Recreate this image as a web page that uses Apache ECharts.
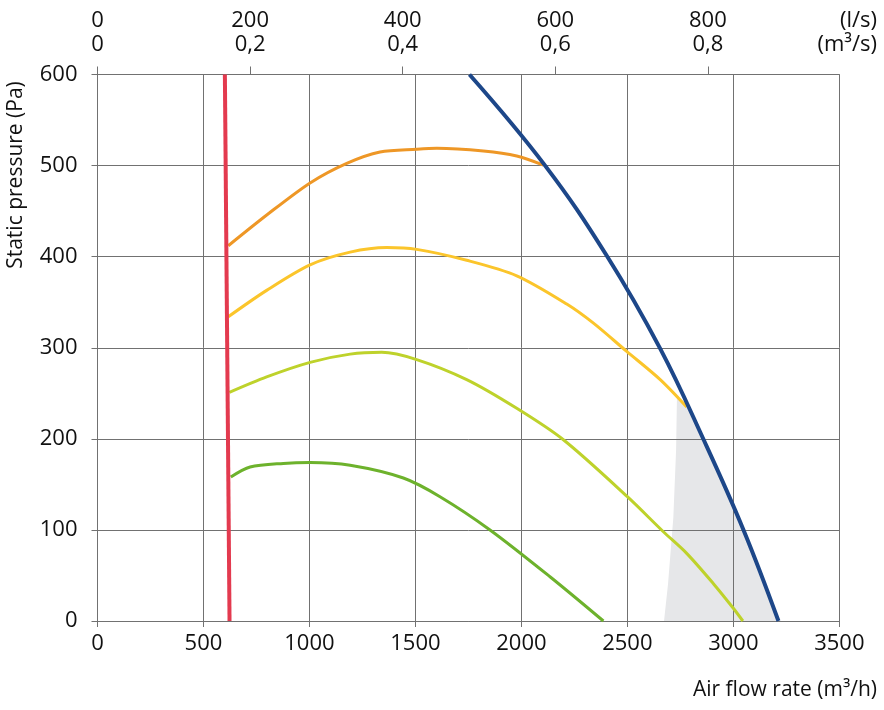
<!DOCTYPE html>
<html>
<head>
<meta charset="utf-8">
<script src="https://cdn.jsdelivr.net/npm/echarts@6/dist/echarts.min.js"></script>
<style>
  html, body { margin: 0; padding: 0; background: #fff; }
  #chart { width: 884px; height: 710px; }
</style>
</head>
<body>
<div id="chart"></div>
<script>
// air flow in m3/h, static pressure in Pa
const xTicks = [0, 500, 1000, 1500, 2000, 2500, 3000, 3500];
const topTicks = [0, 200, 400, 600, 800]; // l/s
const minLine = [[601, 600], [623, 0]];
const curve1 = [[617, 412], [800, 446], [1003, 481], [1176, 502.5], [1333, 515], [1506, 518], [1601, 519], [1821, 516], [1978, 510.5], [2104, 500.5]];
const curve2 = [[617, 334], [798, 363], [1003, 391], [1192, 405], [1365, 410], [1506, 408], [1742, 396], [1978, 379], [2214, 348], [2340, 327], [2497, 296], [2655, 265], [2780, 235]];
const curve3 = [[622, 251], [798, 268], [1003, 284], [1192, 293], [1341, 295], [1506, 287], [1742, 265], [1978, 233.5], [2198, 199], [2500, 136.5], [2670, 98], [2781, 74], [2906, 41], [3000, 14], [3045, 0]];
const curve4 = [[629, 158], [720, 169], [877, 173], [1003, 174], [1192, 171], [1443, 157], [1616, 136.5], [1852, 100], [2135, 48.6], [2387, 0]];
const maxLine = [[1755, 600], [2112, 500], [2403, 401], [2655, 299], [2859, 199.5], [3048, 100], [3213, 0]];
const noiseZone = [[2673, 0], [2692, 41], [2717, 114], [2730, 188], [2734, 246], [2780, 235], [2812, 222], [2859, 199.5], [3000, 125.5], [3048, 100], [3213, 0]];

const font = 'Open Sans';
const gridColor = '#717171';

function curve(data, color, width, smooth) {
    return {
        type: 'line',
        data: data,
        smooth: smooth,
        showSymbol: false,
        silent: true,
        lineStyle: { color: color, width: width },
        z: 3
    };
}

const chart = echarts.init(document.getElementById('chart'));

chart.setOption({
    animation: false,
    grid: { left: 97.5, right: 44.7, top: 74.5, bottom: 89 },
    xAxis: [{
        type: 'value',
        min: 0,
        max: 3500,
        interval: 500,
        axisLine: { lineStyle: { color: gridColor, width: 1 } },
        axisTick: { show: true, length: 6, lineStyle: { color: gridColor } },
        axisLabel: {
            margin: 12,
            fontFamily: font,
            fontSize: 22,
            color: '#111',
            customValues: xTicks,
            formatter: v => String(v)
        },
        splitLine: { show: true, lineStyle: { color: gridColor, width: 1 } }
    }, {
        type: 'value',
        position: 'top',
        min: 0,
        max: 3500 / 3.6,
        axisLine: { show: true, lineStyle: { color: gridColor, width: 1 } },
        axisTick: { show: true, length: 8, customValues: topTicks, lineStyle: { color: gridColor } },
        axisLabel: {
            margin: 18,
            fontFamily: font,
            fontSize: 22,
            lineHeight: 24,
            color: '#111',
            customValues: topTicks,
            formatter: v => v === 0 ? '0\n0' : v + '\n' + (v / 1000).toFixed(1).replace('.', ',')
        },
        splitLine: { show: false }
    }],
    yAxis: {
        type: 'value',
        min: 0,
        max: 600,
        interval: 100,
        axisLine: { show: true, lineStyle: { color: gridColor, width: 1 } },
        axisTick: { show: true, length: 6, lineStyle: { color: gridColor } },
        axisLabel: { margin: 20, fontFamily: font, fontSize: 22, color: '#111' },
        splitLine: { show: true, lineStyle: { color: gridColor, width: 1 } }
    },
    series: [
        {
            type: 'line',
            data: noiseZone,
            showSymbol: false,
            silent: true,
            lineStyle: { width: 0 },
            areaStyle: { color: '#e6e7e9', opacity: 1 },
            z: -1
        },
        curve(curve4, '#6db22c', 3, 0.3),
        curve(curve3, '#bed22b', 3, 0.3),
        curve(curve2, '#fbc52b', 3, 0.3),
        curve(curve1, '#ee9726', 3, 0.3),
        curve(maxLine, '#1d4789', 4, 0.4),
        curve(minLine, '#e33a4f', 4, false)
    ],
    graphic: [
        {
            type: 'text',
            x: 16, y: 175,
            rotation: Math.PI / 2,
            style: { text: 'Static pressure (Pa)', font: '21px "Open Sans"', fill: '#111', align: 'center', verticalAlign: 'middle' }
        },
        {
            type: 'text',
            x: 877, y: 690,
            style: { text: 'Air flow rate (m³/h)', font: '21px "Open Sans"', fill: '#111', align: 'right', verticalAlign: 'middle' }
        },
        {
            type: 'text',
            x: 877, y: 21,
            style: { text: '(l/s)', font: '22px "Open Sans"', fill: '#111', align: 'right', verticalAlign: 'middle' }
        },
        {
            type: 'text',
            x: 877, y: 45,
            style: { text: '(m³/s)', font: '22px "Open Sans"', fill: '#111', align: 'right', verticalAlign: 'middle' }
        }
    ]
});
</script>
</body>
</html>
